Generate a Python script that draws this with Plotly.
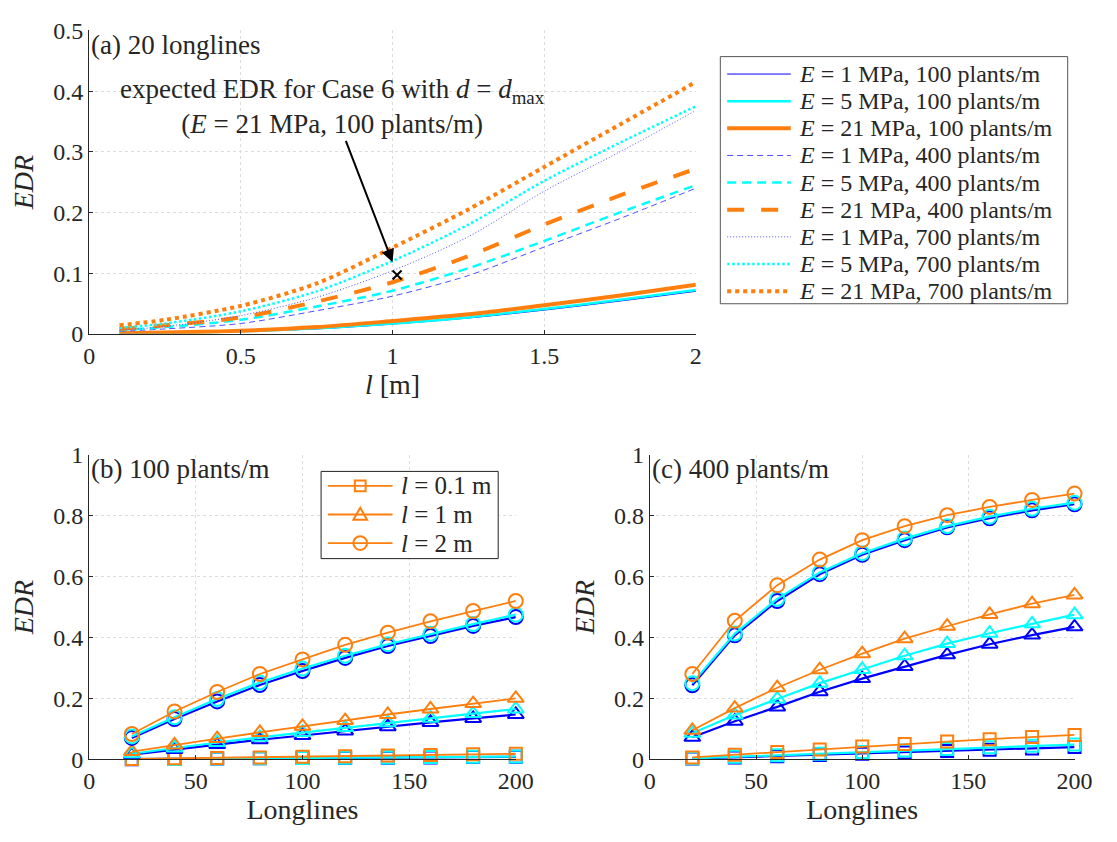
import plotly.graph_objects as go

W, H = 1117, 842
FONT = "Liberation Serif"

# ---------------- panel (a): EDR vs plant length, 20 longlines ----------------
l_m = [0.1, 0.25, 0.5, 0.75, 1.0, 1.25, 1.5, 1.75, 2.0]

edr_E1_d100 = [0.0005, 0.001, 0.004, 0.008, 0.016, 0.026, 0.039, 0.054, 0.070]
edr_E5_d100 = [0.0005, 0.0015, 0.004, 0.009, 0.017, 0.027, 0.041, 0.056, 0.072]
edr_E21_d100 = [0.001, 0.002, 0.005, 0.011, 0.021, 0.032, 0.047, 0.063, 0.081]
edr_E1_d400 = [0.004, 0.008, 0.017, 0.038, 0.062, 0.096, 0.143, 0.190, 0.240]
edr_E5_d400 = [0.006, 0.011, 0.023, 0.045, 0.071, 0.108, 0.153, 0.200, 0.245]
edr_E21_d400 = [0.008, 0.014, 0.027, 0.053, 0.085, 0.128, 0.180, 0.228, 0.272]
edr_E1_d700 = [0.006, 0.012, 0.030, 0.060, 0.104, 0.160, 0.235, 0.300, 0.368]
edr_E5_d700 = [0.010, 0.017, 0.037, 0.070, 0.120, 0.180, 0.252, 0.315, 0.375]
edr_E21_d700 = [0.014, 0.023, 0.046, 0.083, 0.142, 0.205, 0.275, 0.345, 0.415]

modulus_MPa = [1, 5, 21, 1, 5, 21, 1, 5, 21]
density_plants = [100, 100, 100, 400, 400, 400, 700, 700, 700]

case6_l = [1.015]
case6_edr = [0.097]

# ---------------- panels (b), (c): EDR vs number of longlines ----------------
longlines = [20, 40, 60, 80, 100, 120, 140, 160, 180, 200]

# (b) 100 plants/m
b_E1_l01 = [0.0003, 0.001, 0.002, 0.003, 0.004, 0.004, 0.005, 0.006, 0.007, 0.008]
b_E5_l01 = [0.0005, 0.001, 0.002, 0.003, 0.004, 0.005, 0.006, 0.007, 0.008, 0.009]
b_E21_l01 = [0.001, 0.003, 0.004, 0.006, 0.008, 0.010, 0.012, 0.014, 0.016, 0.018]
b_E1_l1 = [0.015, 0.032, 0.048, 0.064, 0.078, 0.093, 0.107, 0.121, 0.134, 0.147]
b_E5_l1 = [0.018, 0.037, 0.055, 0.072, 0.088, 0.104, 0.120, 0.135, 0.150, 0.165]
b_E21_l1 = [0.025, 0.047, 0.068, 0.088, 0.108, 0.127, 0.147, 0.165, 0.183, 0.200]
b_E1_l2 = [0.070, 0.132, 0.190, 0.244, 0.290, 0.333, 0.372, 0.405, 0.438, 0.467]
b_E5_l2 = [0.075, 0.138, 0.198, 0.252, 0.298, 0.340, 0.378, 0.412, 0.444, 0.475]
b_E21_l2 = [0.083, 0.157, 0.221, 0.280, 0.328, 0.376, 0.416, 0.453, 0.487, 0.520]

# (c) 400 plants/m
c_E1_l01 = [0.002, 0.006, 0.010, 0.014, 0.018, 0.022, 0.027, 0.031, 0.035, 0.040]
c_E5_l01 = [0.003, 0.008, 0.013, 0.018, 0.024, 0.029, 0.034, 0.039, 0.044, 0.048]
c_E21_l01 = [0.006, 0.015, 0.024, 0.032, 0.042, 0.050, 0.058, 0.066, 0.073, 0.080]
c_E1_l1 = [0.072, 0.125, 0.172, 0.222, 0.265, 0.305, 0.343, 0.378, 0.408, 0.435]
c_E5_l1 = [0.085, 0.145, 0.198, 0.250, 0.295, 0.340, 0.380, 0.414, 0.445, 0.475]
c_E21_l1 = [0.095, 0.168, 0.235, 0.294, 0.347, 0.396, 0.437, 0.476, 0.511, 0.540]
c_E1_l2 = [0.243, 0.407, 0.520, 0.608, 0.672, 0.720, 0.762, 0.792, 0.818, 0.838]
c_E5_l2 = [0.250, 0.413, 0.527, 0.614, 0.677, 0.725, 0.766, 0.797, 0.823, 0.843]
c_E21_l2 = [0.280, 0.455, 0.572, 0.656, 0.720, 0.766, 0.802, 0.829, 0.852, 0.873]

l_labels = ["0.1", "1", "2"]

BLUE = "#0000ff"
BLUE_LIGHT = "#4d4dff"
CYAN = "#00ffff"
ORANGE = "#ff7f0e"
AXIS = "#262626"

# line style per (E, density) curve in panel (a)
styles_a = [
    (BLUE, 1.0, "solid"), (CYAN, 2.5, "solid"), (ORANGE, 4.0, "solid"),
    (BLUE_LIGHT, 1.0, "6px,4px"), (CYAN, 2.5, "9px,6px"), (ORANGE, 4.0, "17px,17px"),
    (BLUE_LIGHT, 1.0, "1px,2px"), (CYAN, 2.5, "2.5px,2.5px"), (ORANGE, 4.0, "4px,4px"),
]
series_a = [edr_E1_d100, edr_E5_d100, edr_E21_d100,
            edr_E1_d400, edr_E5_d400, edr_E21_d400,
            edr_E1_d700, edr_E5_d700, edr_E21_d700]


def px_x(p):
    return p / W


def px_y(p):
    return 1 - p / H


fig = go.Figure()

for ys, (col, lw, dash), E, d in zip(series_a, styles_a, modulus_MPa, density_plants):
    fig.add_trace(go.Scatter(
        x=l_m, y=ys, mode="lines", line=dict(color=col, width=lw, dash=dash, shape="spline", smoothing=0.8),
        name=f"E = {E} MPa, {d} plants/m", showlegend=False, xaxis="x", yaxis="y"))

fig.add_trace(go.Scatter(
    x=case6_l, y=case6_edr, mode="markers",
    marker=dict(symbol="x-thin", size=9, line=dict(color="black", width=2)),
    showlegend=False, xaxis="x", yaxis="y", cliponaxis=False))

symbols = ["square-open", "triangle-up-open", "circle-open"]
msizes = [12, 14, 14]
colors = [BLUE, CYAN, ORANGE]

panel_b = [[b_E1_l01, b_E5_l01, b_E21_l01],
           [b_E1_l1, b_E5_l1, b_E21_l1],
           [b_E1_l2, b_E5_l2, b_E21_l2]]
panel_c = [[c_E1_l01, c_E5_l01, c_E21_l01],
           [c_E1_l1, c_E5_l1, c_E21_l1],
           [c_E1_l2, c_E5_l2, c_E21_l2]]

for panel, xa, ya in ((panel_b, "x2", "y2"), (panel_c, "x3", "y3")):
    for k, group in enumerate(panel):
        for j, ys in enumerate(group):
            col = colors[j]
            fig.add_trace(go.Scatter(
                x=longlines, y=ys, mode="lines+markers",
                line=dict(color=col, width=2.2 if col != ORANGE else 1.8),
                marker=dict(symbol=symbols[k], size=msizes[k], color=col, line=dict(color=col, width=2)),
                showlegend=False, xaxis=xa, yaxis=ya, cliponaxis=False))

axis_common = dict(
    showline=True, linecolor=AXIS, linewidth=1, mirror=False,
    ticks="inside", ticklen=4, tickcolor=AXIS,
    showgrid=True, gridcolor="#dcdcdc", griddash="dot", gridwidth=1,
    zeroline=False, tickfont=dict(family=FONT, size=24, color=AXIS),
)
title_font = dict(family=FONT, size=28, color=AXIS)

fig.update_layout(
    width=W, height=H, margin=dict(l=0, r=0, t=0, b=0),
    paper_bgcolor="white", plot_bgcolor="white", showlegend=False,
    font=dict(family=FONT, color=AXIS),
    xaxis=dict(axis_common, domain=[px_x(85), px_x(705)], range=[0, 2], dtick=0.5, anchor="y",
               title=dict(text="<i>l</i> [m]", standoff=1, font=title_font)),
    yaxis=dict(axis_common, domain=[px_y(331), px_y(18)], range=[0, 0.5], dtick=0.1, anchor="x",
               title=dict(text="<i>EDR</i>", standoff=11, font=title_font)),
    xaxis2=dict(axis_common, domain=[px_x(85), px_x(521)], range=[0, 200], dtick=50, anchor="y2",
                title=dict(text="Longlines", standoff=4, font=title_font)),
    yaxis2=dict(axis_common, domain=[px_y(770), px_y(456)], range=[0, 1], dtick=0.2, anchor="x2",
                title=dict(text="<i>EDR</i>", standoff=11, font=title_font)),
    xaxis3=dict(axis_common, domain=[px_x(658), px_x(1092)], range=[0, 200], dtick=50, anchor="y3",
                title=dict(text="Longlines", standoff=4, font=title_font)),
    yaxis3=dict(axis_common, domain=[px_y(770), px_y(456)], range=[0, 1], dtick=0.2, anchor="x3",
                title=dict(text="<i>EDR</i>", standoff=11, font=title_font)),
)

annotations = []
shapes = []

# panel titles
for txt, xp, yp in (("(a) 20 longlines", 85, 33), ("(b) 100 plants/m", 85, 471), ("(c) 400 plants/m", 658, 471)):
    annotations.append(dict(text=txt, xref="paper", yref="paper", x=px_x(xp), y=px_y(yp),
                            xanchor="left", yanchor="middle", showarrow=False,
                            font=dict(family=FONT, size=27, color=AXIS)))

# callout for Case 6: text box with an arrow pointing at the curve
annotations.append(dict(
    text="expected EDR for Case 6 with <i>d</i> = <i>d</i><sub>max</sub><br>(<i>E</i> = 21 MPa, 100 plants/m)",
    xref="x", yref="y", x=1.0, y=0.118, axref="x", ayref="y", ax=0.803, ay=0.374,
    showarrow=True, arrowhead=2, arrowsize=1.3, arrowwidth=2, arrowcolor="black", standoff=0,
    align="center", font=dict(family=FONT, size=27, color=AXIS)))

# legend for panel (a)
shapes.append(dict(type="rect", xref="paper", yref="paper", x0=px_x(730), x1=px_x(1085),
                   y0=px_y(300), y1=px_y(45), line=dict(color="#555555", width=1), fillcolor="white",
                   layer="above"))
for i, ((col, lw, dash), E, d) in enumerate(zip(styles_a, modulus_MPa, density_plants)):
    yy = 63 + 28 * i
    shapes.append(dict(type="line", xref="paper", yref="paper", x0=px_x(737), x1=px_x(802),
                       y0=px_y(yy), y1=px_y(yy), line=dict(color=col, width=lw, dash=dash), layer="above"))
    annotations.append(dict(text=f"<i>E</i>\u00a0=\u00a0{E} MPa, {d} plants/m", xref="paper", yref="paper",
                            x=px_x(808), y=px_y(yy), xanchor="left", yanchor="middle", showarrow=False,
                            font=dict(family=FONT, size=24, color=AXIS)))

# legend for panel (b)
shapes.append(dict(type="rect", xref="paper", yref="paper", x0=px_x(322), x1=px_x(503),
                   y0=px_y(563), y1=px_y(473), line=dict(color="#222222", width=1), fillcolor="white",
                   layer="above"))
for i, lab in enumerate(l_labels):
    yy = 488 + 29.5 * i
    cx = 362
    shapes.append(dict(type="line", xref="paper", yref="paper", x0=px_x(329), x1=px_x(395),
                       y0=px_y(yy), y1=px_y(yy), line=dict(color=ORANGE, width=1.8), layer="above"))
    mk = dict(xref="paper", yref="paper", line=dict(color=ORANGE, width=2), fillcolor="rgba(0,0,0,0)",
              layer="above")
    if i == 0:
        shapes.append(dict(mk, type="rect", x0=px_x(cx - 5.5), x1=px_x(cx + 5.5),
                           y0=px_y(yy + 5.5), y1=px_y(yy - 5.5)))
    elif i == 1:
        path = (f"M {px_x(cx - 7)} {px_y(yy + 5.5)} L {px_x(cx + 7)} {px_y(yy + 5.5)} "
                f"L {px_x(cx)} {px_y(yy - 7)} Z")
        shapes.append(dict(mk, type="path", path=path))
    else:
        shapes.append(dict(mk, type="circle", x0=px_x(cx - 7), x1=px_x(cx + 7),
                           y0=px_y(yy + 7), y1=px_y(yy - 7)))
    annotations.append(dict(text=f"<i>l</i>\u00a0=\u00a0{lab} m", xref="paper", yref="paper",
                            x=px_x(402), y=px_y(yy), xanchor="left", yanchor="middle", showarrow=False,
                            font=dict(family=FONT, size=25, color=AXIS)))

fig.update_layout(annotations=annotations, shapes=shapes)

fig.write_html("out.html")
